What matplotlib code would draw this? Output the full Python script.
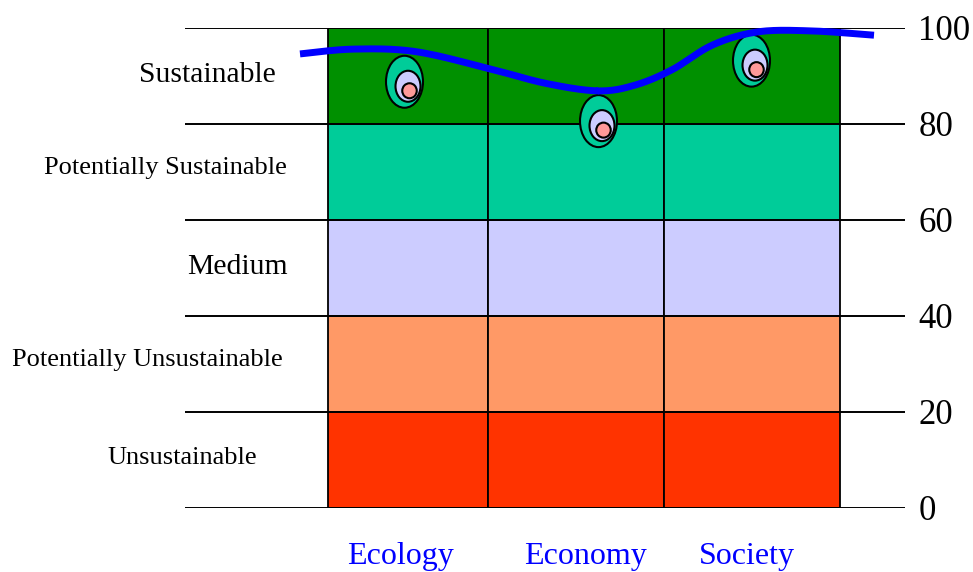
import numpy as np
import matplotlib
matplotlib.use("Agg")
import matplotlib.pyplot as plt
from matplotlib.patches import Ellipse

plt.rcParams['font.family'] = ['Liberation Serif', 'DejaVu Serif']

# Bands (score ranges) and their labels
band_lower = [0, 20, 40, 60, 80]
band_labels = ['Unsustainable', 'Potentially Unsustainable', 'Medium',
               'Potentially Sustainable', 'Sustainable']
band_colors = ['#FF3300', '#FF9966', '#CCCCFF', '#00CC99', '#009000']
band_label_x = [182, 147, 237, 165, 207]
band_label_y = [10.4, 30.9, 50.2, 70.9, 90.2]

# Columns (x in pixel-like units of the slide)
categories = ['Ecology', 'Economy', 'Society']
col_left = [328, 488, 664]
col_width = [160, 176, 176]
cat_label_x = [400, 585, 747]

# Egg markers (score of each dimension)
egg_x = [404.5, 598.5, 751.5]
egg_score = [88.8, 80.6, 93.2]

# Blue trend curve
curve_x = [300, 353, 415, 488, 545, 598, 635, 672, 713, 758, 811, 874]
curve_y = [94.6, 95.6, 95.1, 91.6, 88.5, 86.9, 88.1, 91.3, 96.5, 99.2, 99.4, 98.5]

yticks = [0, 20, 40, 60, 80, 100]


def catmull_rom(xs, ys, n=30):
    p = np.column_stack([xs, ys]).astype(float)
    p = np.vstack([p[0], p, p[-1]])
    out = []
    for i in range(1, len(p) - 2):
        p0, p1, p2, p3 = p[i - 1], p[i], p[i + 1], p[i + 2]
        t = np.linspace(0, 1, n)[:, None]
        seg = 0.5 * ((2 * p1) + (-p0 + p2) * t + (2 * p0 - 5 * p1 + 4 * p2 - p3) * t ** 2
                     + (-p0 + 3 * p1 - 3 * p2 + p3) * t ** 3)
        out.append(seg)
    out = np.vstack(out)
    return out[:, 0], out[:, 1]


fig = plt.figure(figsize=(9.73, 5.72), dpi=100)
ax = fig.add_axes([185 / 973, 64 / 572, 720 / 973, 480 / 572])
ax.set_xlim(185, 905)
ax.set_ylim(0, 100)
for s in ax.spines.values():
    s.set_visible(False)

# colored bands, one bar per column and band
for lo, col in zip(band_lower, band_colors):
    ax.bar(col_left, 20, width=col_width, bottom=lo, align='edge',
           color=col, edgecolor='black', linewidth=1.3, zorder=1)

for v in yticks:
    ax.axhline(v, color='black', linewidth=1.4, zorder=2)

ax.set_xticks([])
ax.yaxis.tick_right()
ax.set_yticks(yticks)
ax.set_yticklabels([str(v) for v in yticks], fontsize=25)
ax.tick_params(axis='y', length=0, pad=9.5)

# band labels on the left
for lab, lx, ly in zip(band_labels, band_label_x, band_label_y):
    fs = 21.3 if lab in ('Sustainable', 'Medium') else 19
    ax.text(lx, ly, lab, ha='center', va='center', fontsize=fs, clip_on=False)

# category labels
for lab, cx in zip(categories, cat_label_x):
    ax.text(cx, -10.1, lab, ha='center', va='center', fontsize=23,
            color='#0000FF', clip_on=False)

# egg markers
px = 100 / 480  # score units per pixel vertically
for ex, sc in zip(egg_x, egg_score):
    ax.add_patch(Ellipse((ex, sc), 37, 52 * px, facecolor='#00CC99',
                         edgecolor='black', linewidth=1.5, zorder=3))
    ax.add_patch(Ellipse((ex + 3.5, sc - 4.5 * px), 25, 31 * px, facecolor='#CCCCFF',
                         edgecolor='black', linewidth=1.5, zorder=4))
    ax.add_patch(Ellipse((ex + 5, sc - 9 * px), 14.5, 15 * px, facecolor='#FF9999',
                         edgecolor='black', linewidth=1.5, zorder=5))

cx, cy = catmull_rom(curve_x, curve_y)
ax.plot(cx, cy, color='#0000FF', linewidth=5, solid_capstyle='butt',
        zorder=6, clip_on=False)

fig.savefig('out.png', dpi=100)
